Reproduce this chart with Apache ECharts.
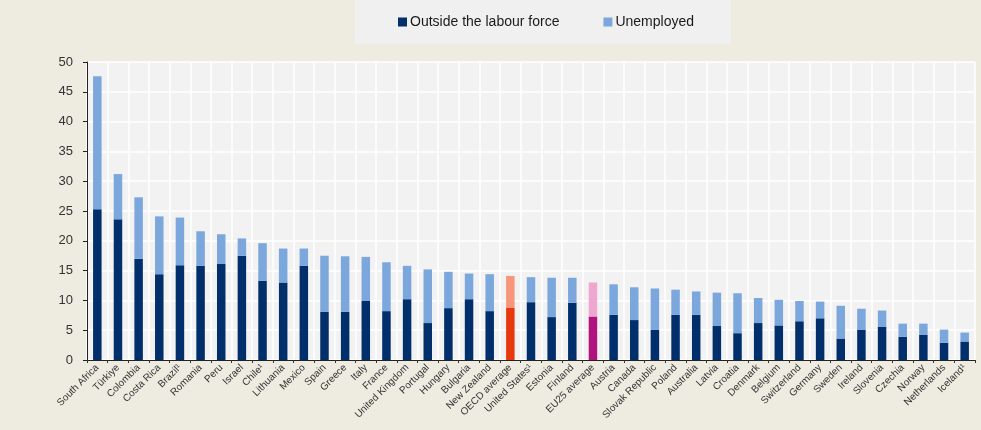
<!DOCTYPE html>
<html><head><meta charset="utf-8">
<script src="https://cdn.jsdelivr.net/npm/echarts@6/dist/echarts.min.js"></script>
<style>html,body{margin:0;padding:0;background:#eeece1;}#c{width:981px;height:430px;}</style>
</head><body><div id="c"></div>
<script>
var categories = ['South Africa','Türkiye','Colombia','Costa Rica','Brazil¹','Romania','Peru','Israel','Chile¹','Lithuania','Mexico','Spain','Greece','Italy','France','United Kingdom','Portugal','Hungary','Bulgaria','New Zealand','OECD average','United States¹','Estonia','Finland','EU25 average','Austria','Canada','Slovak Republic','Poland','Australia','Latvia','Croatia','Denmark','Belgium','Switzerland','Germany','Sweden','Ireland','Slovenia','Czechia','Norway','Netherlands','Iceland¹'];
var outsideLabourForce = [25.3,23.6,17.0,14.4,15.9,15.8,16.1,17.5,13.3,13.0,15.8,8.1,8.1,9.9,8.2,10.2,6.2,8.7,10.2,8.2,8.8,9.7,7.2,9.6,7.3,7.6,6.7,5.1,7.6,7.6,5.7,4.5,6.2,5.8,6.5,7.0,3.6,5.1,5.6,3.9,4.2,2.9,3.1];
var totalShare = [47.6,31.2,27.3,24.1,23.9,21.6,21.1,20.4,19.6,18.7,18.7,17.5,17.4,17.3,16.4,15.8,15.2,14.8,14.5,14.4,14.1,13.9,13.8,13.8,13.0,12.7,12.2,12.0,11.8,11.5,11.3,11.2,10.4,10.1,9.9,9.8,9.1,8.6,8.3,6.1,6.1,5.1,4.6];
var unemployed = totalShare.map(function(t,i){return Math.round((t-outsideLabourForce[i])*10)/10;});
var yTicks = [0,5,10,15,20,25,30,35,40,45,50];

var darkColor = '#002f6c', lightColor = '#7ba7dc';
var special = {'OECD average':['#e8380d','#f7967a'], 'EU25 average':['#b0157f','#eea7cf']};
function mk(vals, idx, base){
  return vals.map(function(v,i){
    var s = special[categories[i]];
    return {value:v, itemStyle:{color: s ? s[idx] : base}};
  });
}
var font = "'Liberation Sans Narrow','Arial Narrow','Liberation Sans',Arial,sans-serif";
var chart = echarts.init(document.getElementById('c'));
chart.setOption({
  backgroundColor:'#eeece1',
  animation:false,
  textStyle:{fontFamily:font},
  legend:{
    top:0, left:355, itemWidth:9, itemHeight:9, itemGap:44,
    icon:'rect', backgroundColor:'#f0f0f0', padding:[15,37,15,43],
    textStyle:{color:'#1a1a1a',fontSize:14,padding:[0,0,0,-2],fontFamily:font},
    data:[{name:'Outside the labour force',itemStyle:{color:darkColor}},{name:'Unemployed',itemStyle:{color:lightColor}}]
  },
  grid:{left:87,right:6,top:62,bottom:70,show:true,backgroundColor:'#f2f2f2',borderWidth:0,containLabel:false},
  xAxis:{
    type:'category', data:categories,
    axisLine:{lineStyle:{color:'#222',width:1}},
    axisTick:{show:true,length:3,lineStyle:{color:'#333'},alignWithLabel:false},
    axisLabel:{rotate:45,interval:0,fontSize:10,color:'#333',margin:6},
    splitLine:{show:true,lineStyle:{color:'#ffffff',width:1.5}}
  },
  yAxis:{
    type:'value', min:0, max:50, interval:5,
    axisLine:{show:true,lineStyle:{color:'#222'}},
    axisTick:{show:true,length:4,lineStyle:{color:'#222'}},
    axisLabel:{fontSize:13,color:'#333',margin:14,
      formatter:function(v){return yTicks.indexOf(v)>=0?String(v):'';}},
    splitLine:{lineStyle:{color:'#ffffff',width:1.5}}
  },
  series:[
    {name:'Outside the labour force',type:'bar',stack:'a',barWidth:8.5,data:mk(outsideLabourForce,0,darkColor),itemStyle:{color:darkColor}},
    {name:'Unemployed',type:'bar',stack:'a',barWidth:8.5,data:mk(unemployed,1,lightColor),itemStyle:{color:lightColor}}
  ]
});
</script></body></html>
